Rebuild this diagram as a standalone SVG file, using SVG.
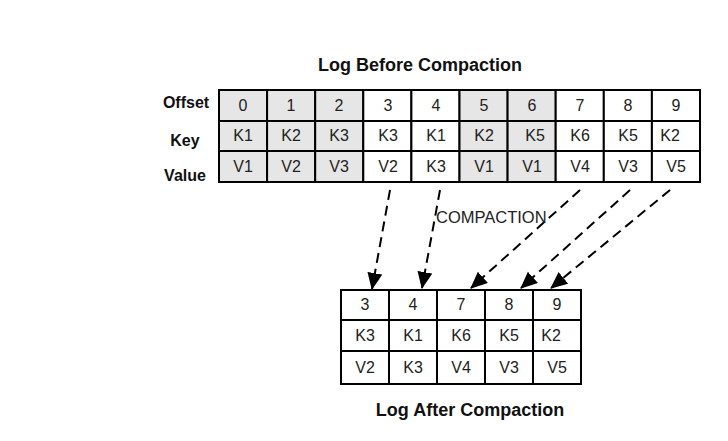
<svg xmlns="http://www.w3.org/2000/svg" width="728" height="441" viewBox="0 0 728 441">
<defs>
<style>
.bg{fill:#ffffff}
.c{fill:#ffffff;stroke:#000;stroke-width:2}
.g{fill:#e6e6e6;stroke:#000;stroke-width:2}
.t{font-family:"Liberation Sans",Arial,sans-serif;font-size:16px;fill:#222;text-anchor:middle}
.h{font-family:"Liberation Sans",Arial,sans-serif;font-size:18px;font-weight:bold;fill:#111;text-anchor:middle}
.l{font-family:"Liberation Sans",Arial,sans-serif;font-size:16px;font-weight:bold;fill:#111;text-anchor:middle}
.lbl{font-family:"Liberation Sans",Arial,sans-serif;font-size:16.5px;fill:#222}
.a{fill:none;stroke:#000;stroke-width:2;stroke-dasharray:10,6;marker-end:url(#ah)}
</style>
<marker id="ah" markerUnits="userSpaceOnUse" markerWidth="18" markerHeight="16" refX="16" refY="7.5" orient="auto">
<path d="M0,0 L17,7.5 L0,15 Z" fill="#000"/>
</marker>
</defs>
<rect class="bg" x="0" y="0" width="728" height="441"/>

<g id="title-before"><text class="h" x="420" y="71">Log Before Compaction</text></g>
<g id="row-labels">
<text class="l" x="186" y="108">Offset</text>
<text class="l" x="185" y="146">Key</text>
<text class="l" x="185" y="181">Value</text>
</g>

<g id="log-before">
<g id="b0"><rect class="g" x="219" y="90" width="48.1" height="31"/><rect class="g" x="219" y="121" width="48.1" height="30"/><rect class="g" x="219" y="151" width="48.1" height="31"/>
<text class="t" x="243" y="111">0</text><text class="t" x="243" y="141">K1</text><text class="t" x="243" y="172">V1</text></g>
<g id="b1"><rect class="g" x="267.1" y="90" width="48.1" height="31"/><rect class="g" x="267.1" y="121" width="48.1" height="30"/><rect class="g" x="267.1" y="151" width="48.1" height="31"/>
<text class="t" x="291" y="111">1</text><text class="t" x="291" y="141">K2</text><text class="t" x="291" y="172">V2</text></g>
<g id="b2"><rect class="g" x="315.2" y="90" width="48.1" height="31"/><rect class="g" x="315.2" y="121" width="48.1" height="30"/><rect class="g" x="315.2" y="151" width="48.1" height="31"/>
<text class="t" x="339" y="111">2</text><text class="t" x="339" y="141">K3</text><text class="t" x="339" y="172">V3</text></g>
<g id="b3"><rect class="c" x="363.3" y="90" width="48.1" height="31"/><rect class="c" x="363.3" y="121" width="48.1" height="30"/><rect class="c" x="363.3" y="151" width="48.1" height="31"/>
<text class="t" x="388" y="111">3</text><text class="t" x="388" y="141">K3</text><text class="t" x="388" y="172">V2</text></g>
<g id="b4"><rect class="c" x="411.4" y="90" width="48.1" height="31"/><rect class="c" x="411.4" y="121" width="48.1" height="30"/><rect class="c" x="411.4" y="151" width="48.1" height="31"/>
<text class="t" x="436" y="111">4</text><text class="t" x="436" y="141">K1</text><text class="t" x="436" y="172">K3</text></g>
<g id="b5"><rect class="g" x="459.5" y="90" width="48.1" height="31"/><rect class="g" x="459.5" y="121" width="48.1" height="30"/><rect class="g" x="459.5" y="151" width="48.1" height="31"/>
<text class="t" x="484" y="111">5</text><text class="t" x="484" y="141">K2</text><text class="t" x="484" y="172">V1</text></g>
<g id="b6"><rect class="g" x="507.6" y="90" width="48.1" height="31"/><rect class="g" x="507.6" y="121" width="48.1" height="30"/><rect class="g" x="507.6" y="151" width="48.1" height="31"/>
<text class="t" x="532" y="111">6</text><text class="t" x="535" y="141">K5</text><text class="t" x="532" y="172">V1</text></g>
<g id="b7"><rect class="c" x="555.7" y="90" width="48.1" height="31"/><rect class="c" x="555.7" y="121" width="48.1" height="30"/><rect class="c" x="555.7" y="151" width="48.1" height="31"/>
<text class="t" x="580" y="111">7</text><text class="t" x="580" y="141">K6</text><text class="t" x="580" y="172">V4</text></g>
<g id="b8"><rect class="c" x="603.8" y="90" width="48.1" height="31"/><rect class="c" x="603.8" y="121" width="48.1" height="30"/><rect class="c" x="603.8" y="151" width="48.1" height="31"/>
<text class="t" x="628" y="111">8</text><text class="t" x="628" y="141">K5</text><text class="t" x="628" y="172">V3</text></g>
<g id="b9"><rect class="c" x="651.9" y="90" width="48.1" height="31"/><rect class="c" x="651.9" y="121" width="48.1" height="30"/><rect class="c" x="651.9" y="151" width="48.1" height="31"/>
<text class="t" x="676" y="111">9</text><text class="t" x="670" y="141">K2</text><text class="t" x="676" y="172">V5</text></g>
</g>

<g id="connectors">
<line class="a" x1="390" y1="190" x2="372" y2="289"/>
<line class="a" x1="440" y1="190" x2="422" y2="288"/>
<line class="a" x1="580" y1="190" x2="471" y2="288"/>
<line class="a" x1="630" y1="190" x2="521" y2="288"/>
<line class="a" x1="670" y1="190" x2="551" y2="288"/>
<text class="lbl" x="436" y="223">COMPACTION</text>
</g>

<g id="log-after">
<g id="a3"><rect class="c" x="341" y="290" width="48" height="30"/><rect class="c" x="341" y="320" width="48" height="31"/><rect class="c" x="341" y="351" width="48" height="33"/>
<text class="t" x="365" y="310">3</text><text class="t" x="365" y="341">K3</text><text class="t" x="365" y="373">V2</text></g>
<g id="a4"><rect class="c" x="389" y="290" width="48" height="30"/><rect class="c" x="389" y="320" width="48" height="31"/><rect class="c" x="389" y="351" width="48" height="33"/>
<text class="t" x="413" y="310">4</text><text class="t" x="413" y="341">K1</text><text class="t" x="413" y="373">K3</text></g>
<g id="a7"><rect class="c" x="437" y="290" width="48" height="30"/><rect class="c" x="437" y="320" width="48" height="31"/><rect class="c" x="437" y="351" width="48" height="33"/>
<text class="t" x="461" y="310">7</text><text class="t" x="461" y="341">K6</text><text class="t" x="461" y="373">V4</text></g>
<g id="a8"><rect class="c" x="485" y="290" width="48" height="30"/><rect class="c" x="485" y="320" width="48" height="31"/><rect class="c" x="485" y="351" width="48" height="33"/>
<text class="t" x="509" y="310">8</text><text class="t" x="509" y="341">K5</text><text class="t" x="509" y="373">V3</text></g>
<g id="a9"><rect class="c" x="533" y="290" width="48" height="30"/><rect class="c" x="533" y="320" width="48" height="31"/><rect class="c" x="533" y="351" width="48" height="33"/>
<text class="t" x="557" y="310">9</text><text class="t" x="551" y="341">K2</text><text class="t" x="557" y="373">V5</text></g>
</g>

<g id="title-after"><text class="h" x="470" y="416">Log After Compaction</text></g>
</svg>
